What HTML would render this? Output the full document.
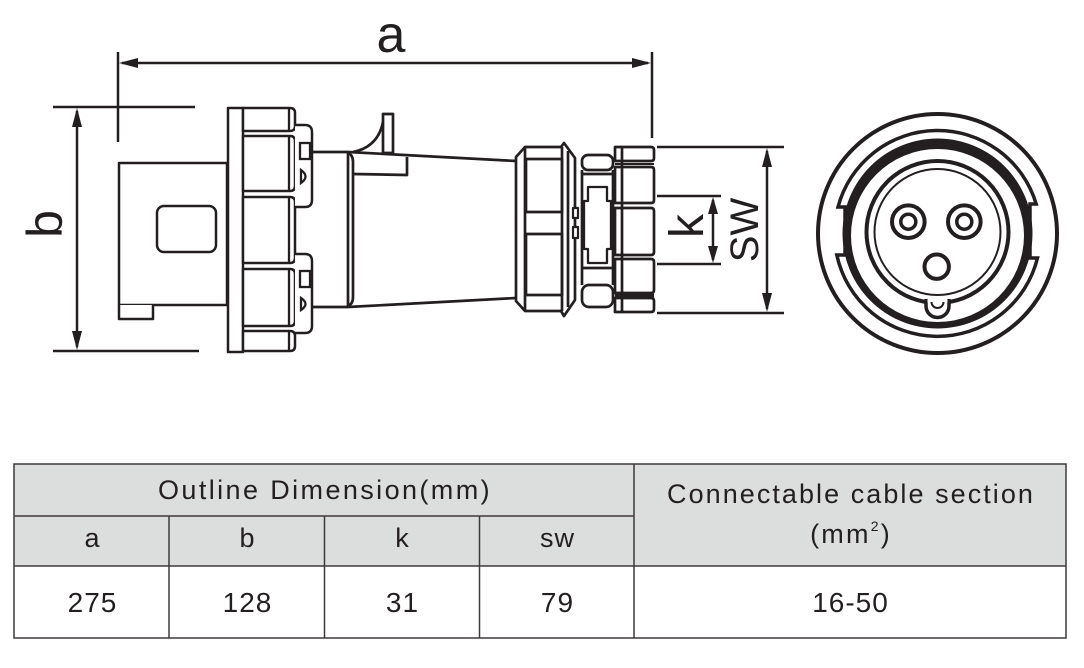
<!DOCTYPE html>
<html><head><meta charset="utf-8"><style>
html,body{margin:0;padding:0;background:#fff;}
svg{display:block}
text{font-family:"Liberation Sans",Arial,sans-serif;fill:#231f20}
</style></head><body>
<svg width="1084" height="668" viewBox="0 0 1084 668" xmlns="http://www.w3.org/2000/svg">
<rect x="0" y="0" width="1084" height="668" fill="#fff"/>

<!-- Dimension lines -->
<g stroke="#231f20" fill="none" stroke-width="2.5">
 <line x1="118" y1="52" x2="118" y2="142"/>
 <line x1="652" y1="52" x2="652" y2="138"/>
 <line x1="122" y1="63" x2="648" y2="63"/>
 <line x1="53" y1="107" x2="195" y2="107"/>
 <line x1="53" y1="351" x2="199" y2="351"/>
 <line x1="77" y1="111" x2="77" y2="347"/>
 <line x1="657" y1="196" x2="721" y2="196"/>
 <line x1="657" y1="264" x2="721" y2="264"/>
 <line x1="713" y1="200" x2="713" y2="260"/>
 <line x1="657" y1="147" x2="784" y2="147"/>
 <line x1="657" y1="313" x2="784" y2="313"/>
 <line x1="767" y1="151" x2="767" y2="309"/>
</g>
<g fill="#231f20">
 <polygon points="119,63 138,58 138,68"/>
 <polygon points="651,63 632,58 632,68"/>
 <polygon points="77,108 72,127 82,127"/>
 <polygon points="77,350 72,331 82,331"/>
 <polygon points="713,197 708,214 718,214"/>
 <polygon points="713,263 708,246 718,246"/>
 <polygon points="767,148 762,167 772,167"/>
 <polygon points="767,312 762,293 772,293"/>
</g>
<text x="391" y="52" font-size="52" text-anchor="middle">a</text>
<text x="42" y="244" font-size="50" text-anchor="middle" transform="rotate(-90 42 224)">b</text>
<text x="684" y="245" font-size="48" text-anchor="middle" transform="rotate(-90 684 226)">k</text>
<text x="744" y="244" font-size="40" text-anchor="middle" transform="rotate(-90 744 230)">SW</text>

<!-- Side view drawing -->
<g stroke="#231f20" fill="#fff" stroke-width="2.5" stroke-linejoin="round">
 <!-- left body -->
 <rect x="119" y="163" width="108" height="142"/>
 <path d="M119,305 V319 H153 V305" />
 <rect x="157" y="206" width="59" height="46" rx="7"/>
 <!-- flange -->
 <rect x="228" y="108" width="15" height="244"/>
 <!-- nut blocks -->
 <path d="M243,108 H290 Q295,108 295,113 V126 Q295,131 290,131 H243 Z"/>
 <path d="M243,136 H290 Q295,136 295,141 V186 Q295,191 290,191 H243 Z"/>
 <path d="M243,197 H290 Q295,197 295,202 V258 Q295,263 290,263 H243 Z"/>
 <path d="M243,269 H290 Q295,269 295,274 V321 Q295,326 290,326 H243 Z"/>
 <path d="M243,331 H290 Q295,331 295,336 V346 Q295,351 290,351 H243 Z"/>
 <!-- ridges -->
 <path d="M295,125 H305 Q312,125 312,132 V200 Q312,207 305,207 H295"/>
 <path d="M295,254 H305 Q312,254 312,261 V326 Q312,333 305,333 H295"/>
</g>
<g stroke="#231f20" fill="none" stroke-width="2.3">
 <line x1="289" y1="109" x2="289" y2="130"/>
 <line x1="289" y1="137" x2="289" y2="190"/>
 <line x1="289" y1="198" x2="289" y2="262"/>
 <line x1="289" y1="270" x2="289" y2="325"/>
 <line x1="289" y1="332" x2="289" y2="350"/>
 <rect x="300" y="143" width="10" height="16" fill="#fff"/>
 <rect x="300" y="271" width="10" height="16" fill="#fff"/>
 <path d="M301,170 Q310,176.5 301,183 Z"/>
 <path d="M301,298 Q310,304 301,310 Z"/>
</g>
<g stroke="#231f20" fill="none" stroke-width="2.7" stroke-linejoin="round">
 <!-- body -->
 <line x1="312" y1="152" x2="348" y2="152"/>
 <line x1="312" y1="307" x2="348" y2="307"/>
 <line x1="348" y1="152" x2="516" y2="161"/>
 <line x1="348" y1="307" x2="516" y2="298"/>
 <line x1="348" y1="152" x2="348" y2="307"/>
 <path d="M348,153 Q353,155 353,162 V297 Q353,304 348,306"/>
 <!-- fin -->
 <rect x="383" y="114" width="10" height="39" fill="#fff"/>
 <path d="M353,152 Q378,147 383,122"/>
 <polyline points="353,174 407,175 407,157"/>
 <!-- nut A -->
 <path d="M516,157 L525,147 H561 L564,143 L575,158 V300 L564,316 L561,311 H525 L516,301 Z" fill="#fff"/>
 <line x1="525" y1="147" x2="525" y2="311"/>
 <line x1="562" y1="147" x2="562" y2="311"/>
 <line x1="568" y1="151" x2="568" y2="307"/>
 <rect x="526" y="159" width="36" height="53"/>
 <rect x="526" y="234" width="36" height="61"/>
 <rect x="573" y="208" width="5" height="10" stroke-width="2.2" fill="#fff"/>
 <rect x="573" y="227" width="5" height="11" stroke-width="2.2" fill="#fff"/>
 <!-- middle small blocks -->
 <rect x="582" y="155" width="31" height="15" rx="6" fill="#fff"/>
 <rect x="582" y="285" width="31" height="22" rx="7" fill="#fff"/>
 <line x1="582" y1="170" x2="582" y2="285"/>
 <line x1="613" y1="170" x2="613" y2="285"/>
 <line x1="582" y1="174" x2="613" y2="174"/>
 <line x1="582" y1="268" x2="613" y2="268"/>
 <path d="M588,187 H607 V201 H611 V249 H607 V263 H588 V249 H584 V201 H588 Z" stroke-width="2.3"/>
 <!-- end nut -->
 <path d="M615,147 H651 Q654,147 654,150 V158 Q654,161 651,161 H615 Z"/>
 <path d="M615,167 H651 Q654,167 654,170 V200 Q654,203 651,203 H615 Z"/>
 <path d="M615,208 H651 Q654,208 654,211 V252 Q654,255 651,255 H615 Z"/>
 <path d="M615,259 H651 Q654,259 654,262 V290 Q654,293 651,293 H615 Z"/>
 <path d="M615,298 H651 Q654,298 654,301 V309 Q654,312 651,312 H615 Z"/>
 <line x1="622" y1="147" x2="622" y2="312"/>
 <line x1="615" y1="164" x2="654" y2="164" stroke-width="2"/>
 <line x1="615" y1="295.5" x2="654" y2="295.5" stroke-width="3.5"/>
</g>

<!-- Front view -->
<g stroke="#231f20" fill="none">
 <circle cx="937.5" cy="233.5" r="119.5" stroke-width="4"/>
 <path d="M838,207 A103,103 0 0 1 1036.2,204 H1030 V258 H1037.5 A103,103 0 0 1 836.8,255 H845 V207 Z" stroke-width="3.5"/>
 <path d="M842.5,233.5 A95,95 0 1 0 1032.5,233.5 A95,95 0 1 0 842.5,233.5 Z M851,235.5 A86.5,86.5 0 1 1 1024,235.5 A86.5,86.5 0 1 1 851,235.5 Z" fill="#231f20" fill-rule="evenodd" stroke="none"/>
 <circle cx="937.5" cy="232" r="71" stroke-width="4" fill="#fff"/>
 <circle cx="937.5" cy="232" r="63" stroke-width="2"/>
 <path d="M926,299 V306 A11.5,11.5 0 0 0 949,306 V299" stroke-width="3.5" fill="#fff"/>
 <line x1="927.5" y1="301" x2="947.5" y2="301" stroke="#fff" stroke-width="3"/>
 <path d="M931.5,302 A6,6 0 0 0 943.5,302" stroke-width="2"/>
 <circle cx="908.3" cy="221.7" r="16.3" stroke-width="4"/>
 <circle cx="908.3" cy="221.7" r="7.5" stroke-width="3.5"/>
 <circle cx="964.3" cy="221.7" r="16.3" stroke-width="4"/>
 <circle cx="964.3" cy="221.7" r="7.5" stroke-width="3.5"/>
 <circle cx="936.7" cy="266.7" r="12.2" stroke-width="4"/>
</g>

<!-- Table -->
<rect x="14" y="464" width="1052" height="102" fill="#dcdddd"/>
<g stroke="#3e3a39" stroke-width="1.5" fill="none">
 <rect x="14" y="464" width="1052" height="174"/>
 <line x1="14" y1="516" x2="634" y2="516"/>
 <line x1="14" y1="566" x2="1066" y2="566"/>
 <line x1="169" y1="516" x2="169" y2="638"/>
 <line x1="324.5" y1="516" x2="324.5" y2="638"/>
 <line x1="479.5" y1="516" x2="479.5" y2="638"/>
 <line x1="634" y1="464" x2="634" y2="638"/>
</g>
<g fill="#231815">
 <text x="325" y="499" font-size="27" letter-spacing="2.4" text-anchor="middle">Outline Dimension(mm)</text>
 <text x="851" y="503" font-size="27" letter-spacing="2.05" text-anchor="middle">Connectable cable section</text>
 <text x="851" y="543" font-size="27" letter-spacing="2.2" text-anchor="middle">(mm<tspan font-size="14" dy="-12">2</tspan><tspan dy="12">)</tspan></text>
 <text x="92.5" y="547" font-size="27" letter-spacing="1" text-anchor="middle">a</text>
 <text x="247.5" y="547" font-size="27" letter-spacing="1" text-anchor="middle">b</text>
 <text x="402.5" y="547" font-size="27" letter-spacing="1" text-anchor="middle">k</text>
 <text x="557.5" y="547" font-size="27" letter-spacing="1" text-anchor="middle">sw</text>
 <text x="92.5" y="612" font-size="28" letter-spacing="1" text-anchor="middle">275</text>
 <text x="247.5" y="612" font-size="28" letter-spacing="1" text-anchor="middle">128</text>
 <text x="402.5" y="612" font-size="28" letter-spacing="1" text-anchor="middle">31</text>
 <text x="557.5" y="612" font-size="28" letter-spacing="1" text-anchor="middle">79</text>
 <text x="850.5" y="612" font-size="28" letter-spacing="1" text-anchor="middle">16-50</text>
</g>
</svg>
</body></html>
